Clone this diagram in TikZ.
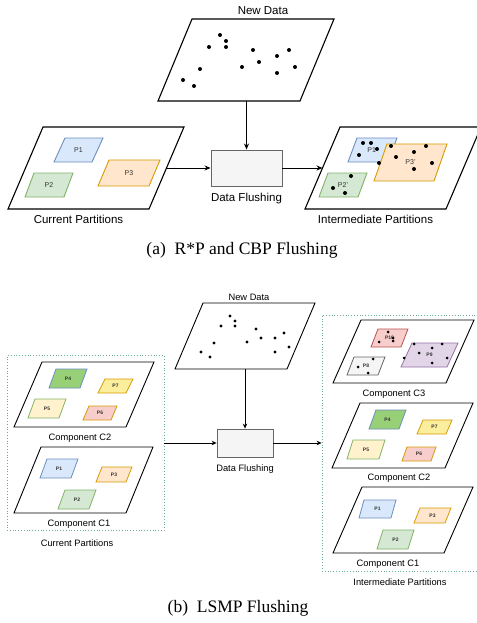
\documentclass[tikz,border=0pt]{standalone}
\usepackage{fontspec}
\setsansfont{Liberation Sans}
\newfontfamily\capfont{Liberation Serif}
\usetikzlibrary{positioning, arrows.meta}

\definecolor{blueF}{HTML}{DAE8FC}
\definecolor{blueD}{HTML}{6C8EBF}
\definecolor{greenF}{HTML}{D5E8D4}
\definecolor{greenD}{HTML}{82B366}
\definecolor{darkgreenF}{HTML}{97D077}
\definecolor{orangeF}{HTML}{FFE6CC}
\definecolor{orangeD}{HTML}{D79B00}
\definecolor{paleF}{HTML}{FFF2CC}
\definecolor{yellowF}{HTML}{FBEE9C}
\definecolor{redF}{HTML}{F8CECC}
\definecolor{redD}{HTML}{B85450}
\definecolor{purpleF}{HTML}{E1D5E7}
\definecolor{purpleD}{HTML}{9673A6}
\definecolor{grayF}{HTML}{F5F5F5}
\definecolor{grayD}{HTML}{666666}
\definecolor{zoneD}{HTML}{67AB9F}
\definecolor{labelC}{HTML}{333333}

\newcommand{\plane}[8][]{%
  \draw[#1] (#4,#5) -- (#4+#6,#5) -- (#7+#6,#8) -- (#7,#8) -- cycle;
  \node[ptext] (#2) at ({(#4+#6+#7)/2},{(#5+#8)/2}) {#3};
  \coordinate (#2-n) at ({#4+#6/2},#5);
  \coordinate (#2-s) at ({#7+#6/2},#8);
  \coordinate (#2-e) at ({(#4+#7)/2+#6},{(#5+#8)/2});
  \coordinate (#2-w) at ({(#4+#7)/2},{(#5+#8)/2});}

\begin{document}
\begin{tikzpicture}[x=1pt,y=-1pt,>={Stealth[length=6pt,width=5pt]},font=\sffamily,
    sheet/.style={draw=black,fill=white,line width=1.1pt},
    blueP/.style={draw=blueD,fill=blueF,line width=0.9pt},
    greenP/.style={draw=greenD,fill=greenF,line width=0.9pt},
    orangeP/.style={draw=orangeD,fill=orangeF,line width=0.9pt},
    flow/.style={->,line width=1pt},
    flushbox/.style={draw=grayD,fill=grayF,line width=0.9pt,inner sep=0pt},
    zone/.style={draw=zoneD,dotted,line width=0.8pt,inner sep=0pt},
    caption/.style={font=\capfont\fontsize{17.5}{20}\selectfont}]
  \useasboundingbox (0,0) rectangle (476,623);

  \begin{scope}[font=\sffamily\fontsize{11.5}{13}\selectfont,
      ptext/.style={font=\sffamily\fontsize{7}{8}\selectfont,text=labelC,inner sep=0pt}]
    \plane[sheet]{newA}{}{192}{19}{142}{158}{101}
    \plane[sheet]{curA}{}{43}{127}{141}{8}{209}
    \plane[sheet]{intA}{}{340}{127}{141}{305}{209}
    \node (newAtxt) [above=1pt of newA-n] {New Data};
    \node (curAtxt) [below=3pt of curA-s] {Current Partitions};
    \node (intAtxt) [below=3pt of intA-s] {Intermediate Partitions};

    \plane[blueP]{p1A}{P1}{65}{138}{38}{54}{162}
    \plane[greenP]{p2A}{P2}{34}{173}{39}{25}{197}
    \plane[orangeP]{p3A}{P3}{109}{160}{51}{98}{186}
    \plane[blueP]{p1Ai}{P1'}{357}{138}{40}{348}{162}
    \plane[orangeP]{p3Ai}{P3'}{387}{144}{60}{374}{181}
    \plane[greenP]{p2Ai}{P2'}{328}{173}{39}{319}{197}

    \foreach \p in {(220,35),(226,41),(226,47),(209,47),(253,50),(259,62),(242,67),
        (277,56),(289,50),(295,67),(277,73),(200,69),(183,80),(194,86),
        (363,143),(371,143),(377,149),(359,155),(379,163),
        (391,146),(426,146),(414,152),(396,157),(432,163),(414,169),
        (351,176),(333,188),(345,193)}
      \fill \p circle (2);

    \node (flushA) [flushbox,minimum width=71pt,minimum height=36pt] at (246.5,168) {};
    \node (flushAtxt) [below=3pt of flushA] {Data Flushing};
    \draw[flow] (newA-s -| flushA) -- (flushA);
    \draw[flow] (curA-e) -- (flushA);
    \draw[flow] (flushA) -- (intA-w);
  \end{scope}
  \node (capA) [caption] at (242,250) {(a)\enspace R*P and CBP Flushing};

  \begin{scope}[font=\sffamily\fontsize{9.3}{11}\selectfont,
      >={Stealth[length=5pt,width=4.5pt]},
      sheet/.style={draw=black,fill=white,line width=0.9pt},
      ptext/.style={font=\sffamily\bfseries\fontsize{5}{6}\selectfont,text=labelC,inner sep=0pt},
      blueP/.style={draw=blueD,fill=blueF,line width=0.8pt},
      greenP/.style={draw=greenD,fill=greenF,line width=0.8pt},
      orangeP/.style={draw=orangeD,fill=orangeF,line width=0.8pt},
      flow/.style={->,line width=0.8pt}]
    \node (curB) [zone,minimum width=157pt,minimum height=175pt] at (85.5,443) {};
    \node (interB) [zone,minimum width=160pt,minimum height=256pt] at (402,443) {};
    \node (curBtxt) at (77,543) {Current Partitions};
    \node (interBtxt) at (400,582) {Intermediate Partitions};

    \plane[sheet]{newB}{}{203}{303}{112}{175}{369}
    \node (newBtxt) at (249,297) {New Data};
    \foreach \p in {(230,316),(235,321),(235,326),(221,326),(256,329),(261,338),(247,342),
        (275,338),(284,333),(289,347),(275,352),(214,343),(201,352),(210,357)}
      \fill \p circle (1.6);

    \plane[sheet]{c2L}{}{42}{362}{112}{14}{427}
    \node (c2Ltxt) at (80,438) {Component C2};
    \plane[draw=blueD,fill=darkgreenF,line width=0.8pt]{p4L}{P4}{56}{369}{31}{49}{388}
    \plane[draw=orangeD,fill=yellowF,line width=0.8pt]{p7L}{P7}{105}{379}{28}{98}{393}
    \plane[draw=greenD,fill=paleF,line width=0.8pt]{p5L}{P5}{35}{399}{31}{28}{418}
    \plane[draw=orangeD,fill=redF,line width=0.8pt]{p6L}{P6}{89}{406}{28}{83}{420}

    \plane[sheet]{c1L}{}{41}{447}{112}{14}{513}
    \node (c1Ltxt) at (79,524) {Component C1};
    \plane[blueP]{p1L}{P1}{47}{459}{31}{40}{478}
    \plane[orangeP]{p3L}{P3}{102}{467}{30}{96}{482}
    \plane[greenP]{p2L}{P2}{65}{490}{31}{58}{509}

    \plane[sheet]{c3R}{}{361}{320}{113}{333}{383}
    \node (c3Rtxt) at (394,394) {Component C3};
    \plane[draw=redD,fill=redF,line width=0.8pt]{p10R}{P10}{378}{329}{30}{371}{347}
    \plane[draw=purpleD,fill=purpleF,line width=0.8pt]{p9R}{P9}{412}{343}{46}{401}{367}
    \plane[draw=grayD,fill=grayF,line width=0.8pt]{p8R}{P8}{354}{357}{31}{347}{375}
    \foreach \p in {(388,332),(393,338),(393,341),(379,342),
        (414,344),(442,344),(432,348),(419,353),(404,358),(447,358),(432,363),
        (373,359),(358,367),(368,373)}
      \fill \p circle (1.5);

    \plane[sheet]{c2R}{}{360}{403}{113}{332}{468}
    \node (c2Rtxt) at (399,478) {Component C2};
    \plane[draw=blueD,fill=darkgreenF,line width=0.8pt]{p4R}{P4}{376}{410}{30}{369}{429}
    \plane[draw=orangeD,fill=yellowF,line width=0.8pt]{p7R}{P7}{423}{420}{29}{417}{434}
    \plane[draw=greenD,fill=paleF,line width=0.8pt]{p5R}{P5}{353}{440}{32}{347}{459}
    \plane[draw=orangeD,fill=redF,line width=0.8pt]{p6R}{P6}{407}{447}{29}{402}{461}

    \plane[sheet]{c1R}{}{362}{487}{111}{333}{553}
    \node (c1Rtxt) at (388,564) {Component C1};
    \plane[blueP]{p1R}{P1}{364}{500}{32}{359}{518}
    \plane[orangeP]{p3R}{P3}{420}{508}{31}{414}{523}
    \plane[greenP]{p2R}{P2}{383}{530}{31}{377}{549}

    \node (flushB) [flushbox,line width=0.8pt,minimum width=56pt,minimum height=28pt] at (245,443) {};
    \node (flushBtxt) [below=4pt of flushB] {Data Flushing};
    \draw[flow] (newB-s -| flushB) -- (flushB);
    \draw[flow] (curB) -- (flushB);
    \draw[flow] (flushB) -- (interB);
  \end{scope}
  \node (capB) [caption] at (238,608) {(b)\enspace LSMP Flushing};
\end{tikzpicture}
\end{document}
